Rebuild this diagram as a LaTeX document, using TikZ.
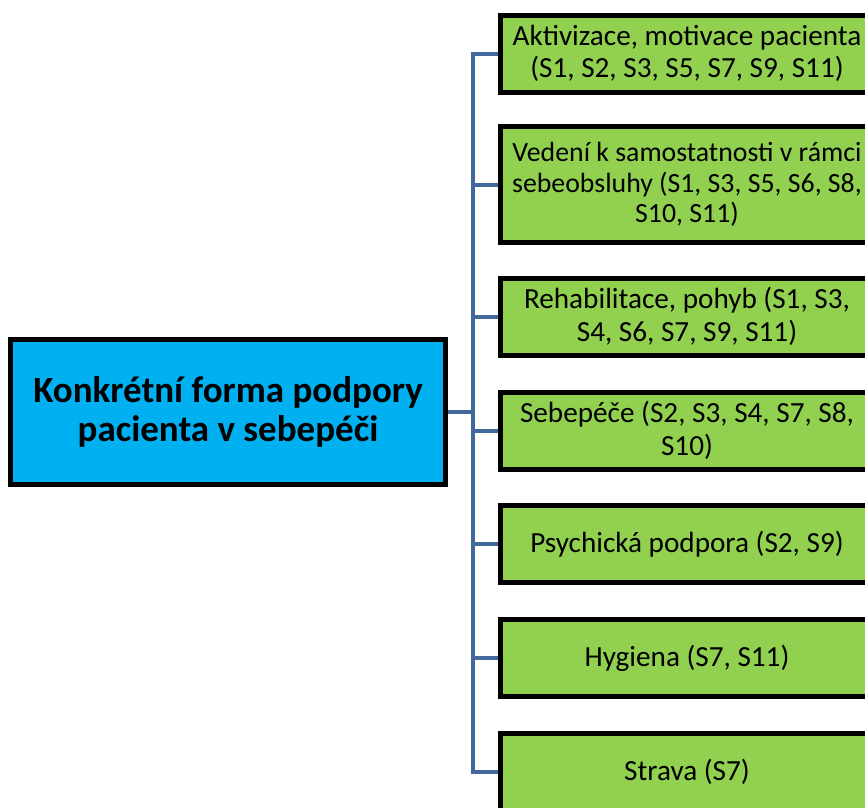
\documentclass[tikz,border=0pt]{standalone}
\usepackage{fontspec}
\setmainfont{Carlito}
\usetikzlibrary{backgrounds}
\begin{document}
\begin{tikzpicture}[x=1pt,y=-1pt,
  box/.style={draw=black, line width=5pt, fill=leafgreen, align=center,
    minimum width=373pt, minimum height=77pt, inner sep=0pt,
    font=\fontsize{29.2}{32.5}\selectfont},
  rootbox/.style={draw=black, line width=5pt, fill=skycyan, align=center,
    minimum width=435pt, minimum height=145pt, inner sep=0pt,
    font=\bfseries\fontsize{37}{38.5}\selectfont},
  conn/.style={draw=linkblue, line width=4pt}]
\definecolor{leafgreen}{HTML}{92D050}
\definecolor{skycyan}{HTML}{00B0F0}
\definecolor{linkblue}{HTML}{41699C}
\path[use as bounding box, clip] (0,0) rectangle (865,807);

% root topic
\node[rootbox] (root) at (228,412) {Konkrétní forma podpory\\pacienta v sebepéči};

% sub-topics
\node[box] (b1) at (687,53.5) {Aktivizace, motivace pacienta\\(S1, S2, S3, S5, S7, S9, S11)};
\node[box, minimum height=116pt, font=\fontsize{27.8}{30.5}\selectfont] (b2) at (687,184.5) {Vedení k samostatnosti v rámci\\sebeobsluhy (S1, S3, S5, S6, S8,\\S10, S11)};
\node[box] (b3) at (687,316.5) {Rehabilitace, pohyb (S1, S3,\\S4, S6, S7, S9, S11)};
\node[box] (b4) at (687,430.5) {Sebepéče (S2, S3, S4, S7, S8,\\S10)};
\node[box] (b5) at (687,544) {Psychická podpora (S2, S9)};
\node[box] (b6) at (687,658) {Hygiena (S7, S11)};
\node[box] (b7) at (687,772) {Strava (S7)};

% elbow connectors through a shared trunk, behind the boxes
\begin{scope}[on background layer]
\foreach \b in {b1,b2,b3,b4,b5,b6,b7}
  \draw[conn] (root.east) -- ++(25,0) |- (\b.west);
\end{scope}
\end{tikzpicture}
\end{document}
